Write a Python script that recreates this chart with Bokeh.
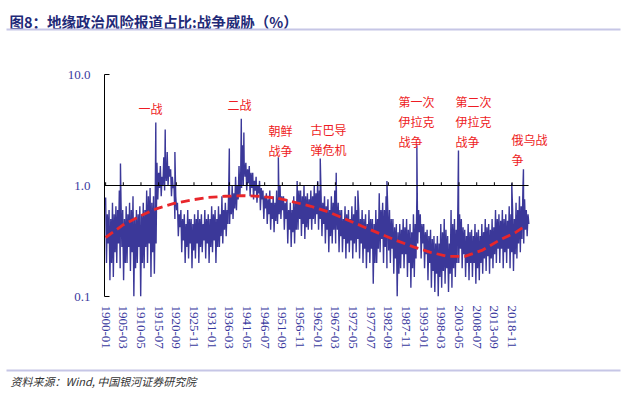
from bokeh.plotting import figure
from bokeh.layouts import column
from bokeh.models import FixedTicker, PrintfTickFormatter, Label, Range1d
from bokeh.core.properties import value
from bokeh.embed import file_html
from bokeh.resources import INLINE

title_text = "图8：地缘政治风险报道占比:战争威胁（%）"
source_text = "资料来源：Wind, 中国银河证券研究院"

first_year = 1900
# per-year levels: first-half high / low, second-half high / low
h1_high = [0.78, 0.6, 0.7, 0.65, 0.9, 0.6, 0.65, 0.7, 0.8, 0.6,
           0.65, 0.7, 0.9, 0.95, 0.8, 1.6, 1.5, 1.8, 2.0, 1.4,
           1.0, 0.7, 0.6, 0.55, 0.6, 0.5, 0.55, 0.6, 0.55, 0.6,
           0.55, 0.65, 0.6, 0.65, 0.8, 0.7, 1.0, 1.0, 1.2, 1.5,
           2.3, 1.6, 1.5, 1.3, 1.2, 1.1, 0.9, 0.85, 0.9, 0.8,
           0.9, 1.0, 0.8, 0.75, 0.7, 0.8, 1.1, 0.9, 1.0, 0.85,
           0.9, 1.0, 1.1, 0.8, 0.8, 0.75, 0.8, 0.9, 0.7, 0.6,
           0.65, 0.6, 0.65, 0.8, 0.6, 0.6, 0.55, 0.6, 0.5, 0.6,
           0.85, 0.7, 0.8, 0.6, 0.5, 0.45, 0.45, 0.5, 0.5, 0.45,
           0.55, 0.8, 0.55, 0.45, 0.4, 0.4, 0.35, 0.35, 0.45, 0.5,
           0.35, 0.6, 0.5, 0.7, 0.5, 0.4, 0.45, 0.4, 0.45, 0.4,
           0.45, 0.5, 0.45, 0.5, 0.6, 0.55, 0.6, 0.55, 0.65, 0.6,
           0.7, 0.8, 0.9, 0.6]
h1_low = [0.2, 0.14, 0.15, 0.2, 0.18, 0.14, 0.2, 0.17, 0.1, 0.2,
          0.1, 0.18, 0.2, 0.15, 0.16, 0.75, 0.8, 0.9, 1.0, 0.8,
          0.5, 0.35, 0.25, 0.2, 0.22, 0.18, 0.22, 0.2, 0.25, 0.22,
          0.2, 0.25, 0.2, 0.28, 0.3, 0.35, 0.45, 0.5, 0.6, 0.8,
          1.0, 0.9, 0.8, 0.75, 0.7, 0.6, 0.5, 0.45, 0.4, 0.38,
          0.45, 0.5, 0.4, 0.3, 0.28, 0.3, 0.4, 0.35, 0.33, 0.4,
          0.4, 0.45, 0.4, 0.35, 0.3, 0.25, 0.3, 0.3, 0.25, 0.25,
          0.22, 0.25, 0.22, 0.25, 0.22, 0.2, 0.18, 0.2, 0.13, 0.2,
          0.25, 0.2, 0.18, 0.2, 0.16, 0.1, 0.18, 0.18, 0.15, 0.12,
          0.15, 0.3, 0.22, 0.18, 0.14, 0.12, 0.11, 0.1, 0.12, 0.13,
          0.11, 0.12, 0.15, 0.2, 0.18, 0.15, 0.14, 0.15, 0.13, 0.14,
          0.16, 0.17, 0.16, 0.18, 0.2, 0.2, 0.18, 0.2, 0.18, 0.17,
          0.22, 0.25, 0.3, 0.35]
h2_high = [0.55, 0.5, 0.55, 0.6, 0.7, 0.5, 0.55, 0.6, 0.5, 0.55,
           0.55, 0.6, 0.8, 0.7, 0.7, 1.3, 1.2, 1.5, 1.5, 1.2,
           0.8, 0.55, 0.5, 0.45, 0.5, 0.45, 0.5, 0.5, 0.45, 0.5,
           0.5, 0.55, 0.5, 0.55, 0.6, 0.6, 0.8, 0.85, 1.0, 1.3,
           1.6, 1.4, 1.3, 1.1, 1.0, 0.95, 0.8, 0.75, 0.7, 0.7,
           0.8, 0.8, 0.7, 0.6, 0.6, 0.7, 0.9, 0.8, 0.8, 0.75,
           0.8, 0.85, 0.9, 0.7, 0.65, 0.6, 0.7, 0.7, 0.6, 0.5,
           0.55, 0.5, 0.55, 0.6, 0.5, 0.5, 0.45, 0.5, 0.45, 0.5,
           0.6, 0.6, 0.6, 0.5, 0.42, 0.38, 0.4, 0.42, 0.4, 0.38,
           0.45, 0.6, 0.45, 0.38, 0.35, 0.33, 0.3, 0.3, 0.38, 0.4,
           0.3, 0.45, 0.4, 0.55, 0.42, 0.35, 0.38, 0.35, 0.38, 0.35,
           0.38, 0.42, 0.4, 0.42, 0.5, 0.48, 0.5, 0.48, 0.55, 0.5,
           0.6, 0.65, 0.75, 0.55]
h2_low = [0.3, 0.2, 0.25, 0.3, 0.28, 0.2, 0.28, 0.25, 0.18, 0.28,
          0.2, 0.28, 0.3, 0.25, 0.3, 0.95, 1.0, 1.1, 1.2, 0.95,
          0.6, 0.42, 0.32, 0.28, 0.3, 0.26, 0.3, 0.28, 0.32, 0.3,
          0.28, 0.32, 0.28, 0.35, 0.4, 0.45, 0.55, 0.62, 0.75, 0.95,
          1.2, 1.05, 0.95, 0.9, 0.85, 0.75, 0.62, 0.55, 0.5, 0.48,
          0.55, 0.6, 0.5, 0.4, 0.38, 0.4, 0.5, 0.45, 0.42, 0.5,
          0.5, 0.55, 0.5, 0.45, 0.4, 0.35, 0.4, 0.4, 0.35, 0.33,
          0.3, 0.32, 0.3, 0.33, 0.3, 0.27, 0.25, 0.27, 0.2, 0.27,
          0.33, 0.28, 0.26, 0.27, 0.22, 0.16, 0.24, 0.24, 0.2, 0.18,
          0.22, 0.38, 0.3, 0.24, 0.2, 0.17, 0.16, 0.15, 0.17, 0.18,
          0.16, 0.18, 0.2, 0.27, 0.24, 0.2, 0.2, 0.2, 0.18, 0.2,
          0.22, 0.23, 0.22, 0.24, 0.27, 0.27, 0.25, 0.27, 0.25, 0.24,
          0.3, 0.33, 0.4, 0.45]
# spikes (month, value)
spike_dates = ["1904-05", "1914-09", "1917-06", "1920-04", "1936-03", "1939-09", "1940-06",
               "1950-07", "1962-10", "1967-06", "1973-10", "1982-04", "1991-01", "2003-03",
               "2018-10", "2022-03"]
spike_values = [1.58, 3.7, 3.2, 2.0, 2.15, 4.0, 3.0,
                1.8, 1.75, 1.3, 0.9, 1.1, 2.3, 2.07,
                1.05, 1.4]
# fitted trend (red dashed)
trend_years = [1900, 1905, 1910, 1915, 1920, 1925, 1930, 1935, 1940, 1945, 1950, 1955, 1960,
               1965, 1970, 1975, 1980, 1985, 1990, 1995, 2000, 2005, 2010, 2015, 2020, 2023]
trend_values = [0.34, 0.44, 0.53, 0.62, 0.69, 0.74, 0.78, 0.80, 0.81, 0.80, 0.77, 0.71, 0.65,
                0.58, 0.50, 0.43, 0.37, 0.32, 0.28, 0.25, 0.23, 0.23, 0.26, 0.32, 0.38, 0.44]
tick_labels = ["1900-01", "1905-03", "1910-05", "1915-07", "1920-09", "1925-11", "1931-01",
               "1936-03", "1941-05", "1946-07", "1951-09", "1956-11", "1962-01", "1967-03",
               "1972-05", "1977-07", "1982-09", "1987-11", "1993-01", "1998-03", "2003-05",
               "2008-07", "2013-09", "2018-11"]
event_labels = ["一战", "二战", "朝鲜\n战争", "古巴导\n弹危机", "第一次\n伊拉克\n战争",
                "第二次\n伊拉克\n战争", "俄乌战\n争"]


def month_index(s):
    y, m = s.split("-")
    return (int(y) - first_year) * 12 + int(m) - 1


pts = []
for i in range(len(h1_high)):
    pts.append((i * 12 + 0, h1_high[i]))
    pts.append((i * 12 + 3, h1_low[i]))
    pts.append((i * 12 + 6, h2_high[i]))
    pts.append((i * 12 + 9, h2_low[i]))
for d, v in zip(spike_dates, spike_values):
    pts.append((month_index(d), v))
pts.sort(key=lambda t: t[0])
xs = [t[0] for t in pts]
ys = [t[1] for t in pts]

tick_pos = [month_index(t) for t in tick_labels]
trend_x = [(y - first_year) * 12 for y in trend_years]
axis_x0, axis_x1 = -4, 1484

W = 626
LAVENDER = "#c6c6e6"


def banner(height):
    f = figure(width=W, height=height, x_range=Range1d(0, W), y_range=Range1d(height, 0),
               output_backend="svg", toolbar_location=None,
               x_axis_location=None, y_axis_location=None,
               min_border=0, min_border_left=0, min_border_right=0,
               min_border_top=0, min_border_bottom=0)
    f.xgrid.visible = False
    f.ygrid.visible = False
    f.outline_line_color = None
    f.frame_align = False
    return f


# header
head = banner(38)
head.text(x=[9], y=[10], text=[title_text], text_font=value("Noto Sans CJK SC"),
          text_font_size="14.5px", text_font_style="bold", text_color="#1f2a78",
          text_baseline="top", text_align="left")
head.segment(x0=[6], y0=[29], x1=[620], y1=[29], line_color=LAVENDER, line_width=2)

# main chart
p = figure(width=W, height=324, y_axis_type="log",
           x_range=Range1d(axis_x0, 1596), y_range=Range1d(0.1, 10),
           output_backend="svg", toolbar_location=None,
           min_border_left=104, min_border_right=66, min_border_top=36, min_border_bottom=66)
p.xgrid.visible = False
p.ygrid.visible = False
p.outline_line_color = None
p.frame_align = False

label_blue = "#3a3a9e"
p.yaxis.ticker = FixedTicker(ticks=[0.1, 1, 10], minor_ticks=[])
p.yaxis.formatter = PrintfTickFormatter(format="%.1f")
p.yaxis.major_tick_in = 5
p.yaxis.major_tick_out = 0
p.yaxis.minor_tick_in = 0
p.yaxis.minor_tick_out = 0
p.yaxis.axis_line_color = "black"
p.yaxis.major_tick_line_color = "black"
p.yaxis.major_label_standoff = 14
p.yaxis.major_label_text_font = "Liberation Serif"
p.yaxis.major_label_text_font_size = "13px"
p.yaxis.major_label_text_color = label_blue

p.xaxis.ticker = FixedTicker(ticks=tick_pos, minor_ticks=[])
p.xaxis.major_label_overrides = {pos: lab for pos, lab in zip(tick_pos, tick_labels)}
p.xaxis.major_label_orientation = "vertical"
p.xaxis.axis_line_color = None
p.xaxis.major_tick_line_color = None
p.xaxis.minor_tick_line_color = None
p.xaxis.major_tick_out = 0
p.xaxis.major_tick_in = 0
p.xaxis.major_label_standoff = 9
p.xaxis.major_label_text_font = "Liberation Serif"
p.xaxis.major_label_text_font_size = "13px"
p.xaxis.major_label_text_color = label_blue

p.line(xs, ys, line_color="#3b3899", line_width=1.4)
p.line(trend_x, trend_values, line_color="#e8262b", line_width=2.8, line_dash="9 5")

# horizontal axis line at 1.0 with small upward ticks
p.segment(x0=[axis_x0], y0=[1], x1=[axis_x1], y1=[1], line_color="black", line_width=1.2)
p.segment(x0=tick_pos, y0=[1] * len(tick_pos), x1=tick_pos, y1=[1.07] * len(tick_pos),
          line_color="black", line_width=1)

# annotations (screen coords relative to frame bottom-left)
ann_pos = [(34, 197), (123, 201), (164, 175), (206, 176), (294, 204), (351, 204), (407, 166)]
for txt, (ax, ay) in zip(event_labels, ann_pos):
    p.add_layout(Label(x=ax, y=ay, x_units="screen", y_units="screen", text=txt,
                       text_font="Noto Sans CJK SC", text_font_size="12px",
                       text_color="#ee1c24", text_baseline="top", text_align="left",
                       text_line_height=1.2))

# footer
foot = banner(36)
foot.segment(x0=[6], y0=[8], x1=[620], y1=[8], line_color=LAVENDER, line_width=2)
foot.text(x=[10], y=[10], text=[source_text], text_font=value("Noto Sans CJK SC"),
          text_font_size="11px", text_font_style="italic", text_color="#333333",
          text_baseline="top", text_align="left")

layout = column(head, p, foot, spacing=0)
open("out.html", "w").write(file_html(layout, INLINE))
